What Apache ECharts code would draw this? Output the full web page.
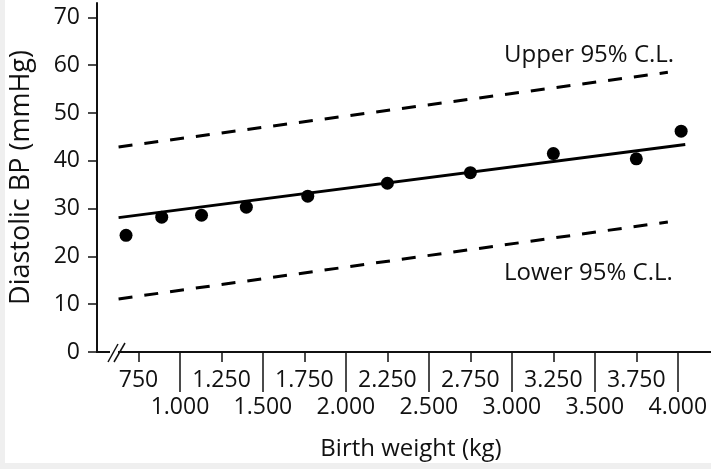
<!DOCTYPE html>
<html><head><meta charset="utf-8">
<script src="https://cdn.jsdelivr.net/npm/echarts@6/dist/echarts.min.js"></script>
<style>
html,body{margin:0;padding:0;background:#efefef;overflow:hidden;}
#bg{position:absolute;left:5px;top:0;width:706px;height:463px;background:#fff;}
#c{position:absolute;left:0;top:0;width:711px;height:469px;}
</style></head><body><div id="bg"></div><div id="c"></div>
<script>
const weights = [675, 890, 1130, 1400, 1770, 2250, 2750, 3250, 3750, 4020];
const diastolic = [24.4, 28.2, 28.6, 30.3, 32.6, 35.3, 37.5, 41.5, 40.4, 46.2];
const fitX = [630, 4045];
const fitY = [28.1, 43.4];
const clX = [630, 3940];
const upperY = [42.9, 58.5];
const lowerY = [11.1, 27.2];
const majorTicks = [1000, 1500, 2000, 2500, 3000, 3500, 4000];
const minorTicks = [750, 1250, 1750, 2250, 2750, 3250, 3750];
const yTicks = [0, 10, 20, 30, 40, 50, 60, 70];
const xTitle = 'Birth weight (kg)';
const yTitle = 'Diastolic BP (mmHg)';
const upperLabel = 'Upper 95% C.L.';
const lowerLabel = 'Lower 95% C.L.';

const FONT = '"Open Sans", sans-serif';
const INK = '#111';
function fmt(v) {
  if (v < 1000) return String(v);
  const th = Math.floor(v / 1000);
  const r = String(v % 1000).padStart(3, '0');
  return th + '.' + r;
}
const pairs = (xs, ys) => xs.map((x, i) => [x, ys[i]]);

const chart = echarts.init(document.getElementById('c'), null, {renderer: 'canvas'});
const axisCommon = {
  type: 'value', min: 500, max: 4200, position: 'bottom',
  axisLine: {show: true, lineStyle: {color: INK, width: 2}},
  splitLine: {show: false}
};
chart.setOption({
  backgroundColor: 'transparent',
  animation: false,
  grid: {left: 96, right: 0, top: 3, bottom: 117, containLabel: false},
  xAxis: [
    Object.assign({}, axisCommon, {
      name: xTitle, nameLocation: 'middle', nameGap: 85,
      nameTextStyle: {fontFamily: FONT, fontSize: 24, color: INK, padding: [0, 0, 0, 14]},
      axisTick: {show: true, length: 40, customValues: majorTicks, lineStyle: {color: INK, width: 1.5}},
      axisLabel: {customValues: majorTicks, formatter: fmt, margin: 44, fontFamily: FONT, fontSize: 23, color: INK}
    }),
    Object.assign({}, axisCommon, {
      axisTick: {show: true, length: 10, customValues: minorTicks, lineStyle: {color: INK, width: 1.5}},
      axisLabel: {customValues: minorTicks, formatter: fmt, margin: 17, fontFamily: FONT, fontSize: 23, color: INK}
    })
  ],
  yAxis: {
    type: 'value', min: 0, max: 73,
    name: yTitle, nameLocation: 'middle', nameGap: 62, nameRotate: 90,
    nameTextStyle: {fontFamily: FONT, fontSize: 27, color: INK},
    axisLine: {show: true, lineStyle: {color: INK, width: 2}},
    axisTick: {show: true, length: 9, customValues: yTicks, lineStyle: {color: INK, width: 1.5}},
    axisLabel: {customValues: yTicks, margin: 17, fontFamily: FONT, fontSize: 23, color: INK},
    splitLine: {show: false}
  },
  series: [
    {type: 'line', data: pairs(fitX, fitY), symbol: 'none', lineStyle: {color: '#000', width: 2.8}},
    {type: 'line', data: pairs(clX, upperY), symbol: 'none', lineStyle: {color: '#000', width: 3, type: [14, 12]}},
    {type: 'line', data: pairs(clX, lowerY), symbol: 'none', lineStyle: {color: '#000', width: 3, type: [14, 12]}},
    {type: 'scatter', data: pairs(weights, diastolic), symbol: 'circle', symbolSize: 13, itemStyle: {color: '#000', opacity: 1}, z: 5}
  ],
  graphic: [
    {type: 'text', left: 504, top: 43, style: {text: upperLabel, font: '24px "Open Sans"', fill: INK}},
    {type: 'text', left: 504, top: 261, style: {text: lowerLabel, font: '24px "Open Sans"', fill: INK}},
    {type: 'rect', shape: {x: 110, y: 348, width: 8, height: 8}, style: {fill: '#fff'}, z: 100},
    {type: 'line', shape: {x1: 108, y1: 362, x2: 118, y2: 344}, style: {stroke: INK, lineWidth: 1.5}, z: 101},
    {type: 'line', shape: {x1: 114, y1: 362, x2: 125, y2: 343}, style: {stroke: INK, lineWidth: 1.5}, z: 101}
  ]
});
</script></body></html>
